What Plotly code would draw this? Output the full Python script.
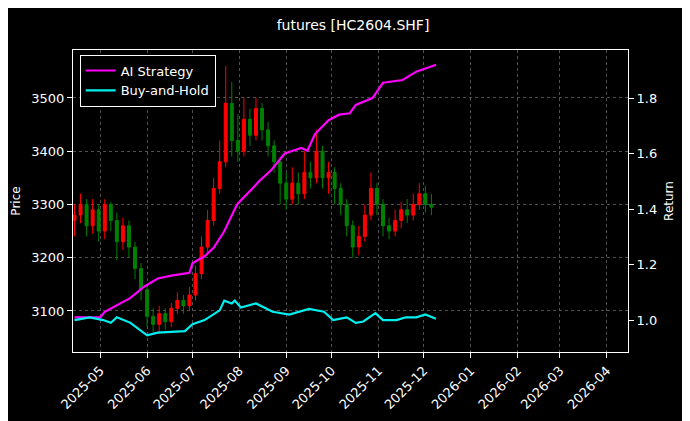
import plotly.graph_objects as go
import pandas as pd

candle_start = "2025-04-14"
candle_step_days = 4
close = [3280,3300,3260,3290,3250,3300,3270,3230,3260,3220,3180,3140,3090,3075,3095,3080,3105,3120,3110,3130,
         3170,3220,3270,3330,3380,3490,3420,3400,3460,3430,3480,3440,3410,3380,3340,3310,3340,3320,3360,3350,
         3400,3350,3360,3330,3300,3260,3220,3240,3280,3330,3300,3260,3250,3270,3290,3280,3300,3320,3300,3295]
first_open = 3270
high = [3300,3320,3310,3310,3300,3310,3305,3285,3275,3270,3230,3190,3150,3105,3110,3105,3115,3135,3130,3145,
        3185,3240,3290,3350,3420,3560,3530,3470,3500,3480,3500,3490,3455,3420,3390,3360,3370,3360,3400,3380,
        3440,3410,3380,3370,3340,3310,3270,3260,3300,3360,3340,3310,3275,3290,3305,3310,3320,3340,3335,3320]
low = [3240,3265,3240,3245,3230,3235,3250,3195,3215,3200,3160,3120,3070,3060,3060,3065,3070,3095,3095,3100,
       3120,3160,3210,3260,3320,3370,3390,3380,3390,3410,3420,3420,3390,3360,3300,3290,3300,3300,3310,3330,
       3340,3330,3320,3300,3280,3240,3200,3205,3230,3270,3280,3240,3235,3240,3255,3265,3270,3290,3285,3280]

ai_dates = ["2025-04-14","2025-05-01","2025-05-04","2025-05-10","2025-05-21","2025-05-30","2025-06-08","2025-06-17",
            "2025-06-29","2025-07-01","2025-07-09","2025-07-15","2025-07-22","2025-07-29","2025-07-31","2025-08-09",
            "2025-08-14","2025-08-22","2025-08-31","2025-09-11","2025-09-15","2025-09-20","2025-09-29","2025-10-06",
            "2025-10-13","2025-10-17","2025-10-28","2025-11-04","2025-11-17","2025-11-26","2025-12-09"]
ai_ret = [1.01,1.01,1.03,1.047,1.08,1.12,1.15,1.16,1.17,1.205,1.23,1.26,1.32,1.40,1.42,1.47,
          1.50,1.54,1.60,1.62,1.61,1.67,1.72,1.74,1.745,1.775,1.80,1.855,1.865,1.895,1.92]
bh_dates = ["2025-04-14","2025-04-24","2025-05-03","2025-05-08","2025-05-12","2025-05-21","2025-06-01","2025-06-08",
            "2025-06-26","2025-07-01","2025-07-09","2025-07-19","2025-07-22","2025-07-27","2025-07-29","2025-08-02",
            "2025-08-12","2025-08-23","2025-09-03","2025-09-16","2025-09-26","2025-10-02","2025-10-11","2025-10-17",
            "2025-10-22","2025-10-30","2025-11-04","2025-11-13","2025-11-19","2025-11-26","2025-12-02","2025-12-09"]
bh_ret = [1.0,1.01,1.0,0.99,1.01,0.99,0.945,0.955,0.96,0.985,1.0,1.035,1.07,1.06,1.07,1.045,
          1.06,1.03,1.02,1.04,1.03,1.0,1.01,0.99,0.995,1.025,1.0,1.0,1.01,1.01,1.02,1.005]

dates = pd.date_range(candle_start, periods=len(close), freq=f"{candle_step_days}D")
opens = [first_open] + close[:-1]

fig = go.Figure()
fig.add_trace(go.Candlestick(x=dates, open=opens, high=high, low=low, close=close,
    increasing=dict(line=dict(color="red", width=1), fillcolor="red"),
    decreasing=dict(line=dict(color="green", width=1), fillcolor="green"),
    whiskerwidth=0, showlegend=False, yaxis="y"))
fig.add_trace(go.Scatter(x=ai_dates, y=ai_ret, mode="lines", name="AI Strategy",
    line=dict(color="#ff00ff", width=2.2), yaxis="y2"))
fig.add_trace(go.Scatter(x=bh_dates, y=bh_ret, mode="lines", name="Buy-and-Hold",
    line=dict(color="#00f0f0", width=2.2), yaxis="y2"))

grid = dict(showgrid=True, gridcolor="#505050", griddash="dot", gridwidth=0.7)
fig.update_layout(
    width=690, height=421, paper_bgcolor="black", plot_bgcolor="black",
    font=dict(family="DejaVu Sans", color="white", size=13),
    margin=dict(l=65, r=70, t=42, b=77),
    title=dict(text="futures [HC2604.SHF]", x=0.5, xanchor="center", y=0.97, font=dict(size=14)),
    xaxis=dict(range=["2025-04-13", "2026-04-15"], dtick="M1", tickformat="%Y-%m", tickangle=-45,
               showline=True, mirror=True, linecolor="white", ticks="outside", tickcolor="white",
               rangeslider=dict(visible=False), automargin=False, **grid),
    yaxis=dict(title=dict(text="Price", font=dict(size=12), standoff=8), range=[3023, 3590],
               tickvals=[3100,3200,3300,3400,3500], automargin=False,
               showline=True, linecolor="white", ticks="outside", tickcolor="white", zeroline=False, **grid),
    yaxis2=dict(title=dict(text="Return", font=dict(size=12), standoff=8), overlaying="y", side="right",
                range=[0.885, 1.973], automargin=False,
                tickvals=[1.0,1.2,1.4,1.6,1.8], tickformat=".1f", showline=True, linecolor="white",
                ticks="outside", tickcolor="white", showgrid=False, zeroline=False),
    legend=dict(x=0.012, y=0.985, xanchor="left", yanchor="top", bgcolor="black",
                bordercolor="white", borderwidth=1, font=dict(size=13)),
)
fig.write_html("out.html")
